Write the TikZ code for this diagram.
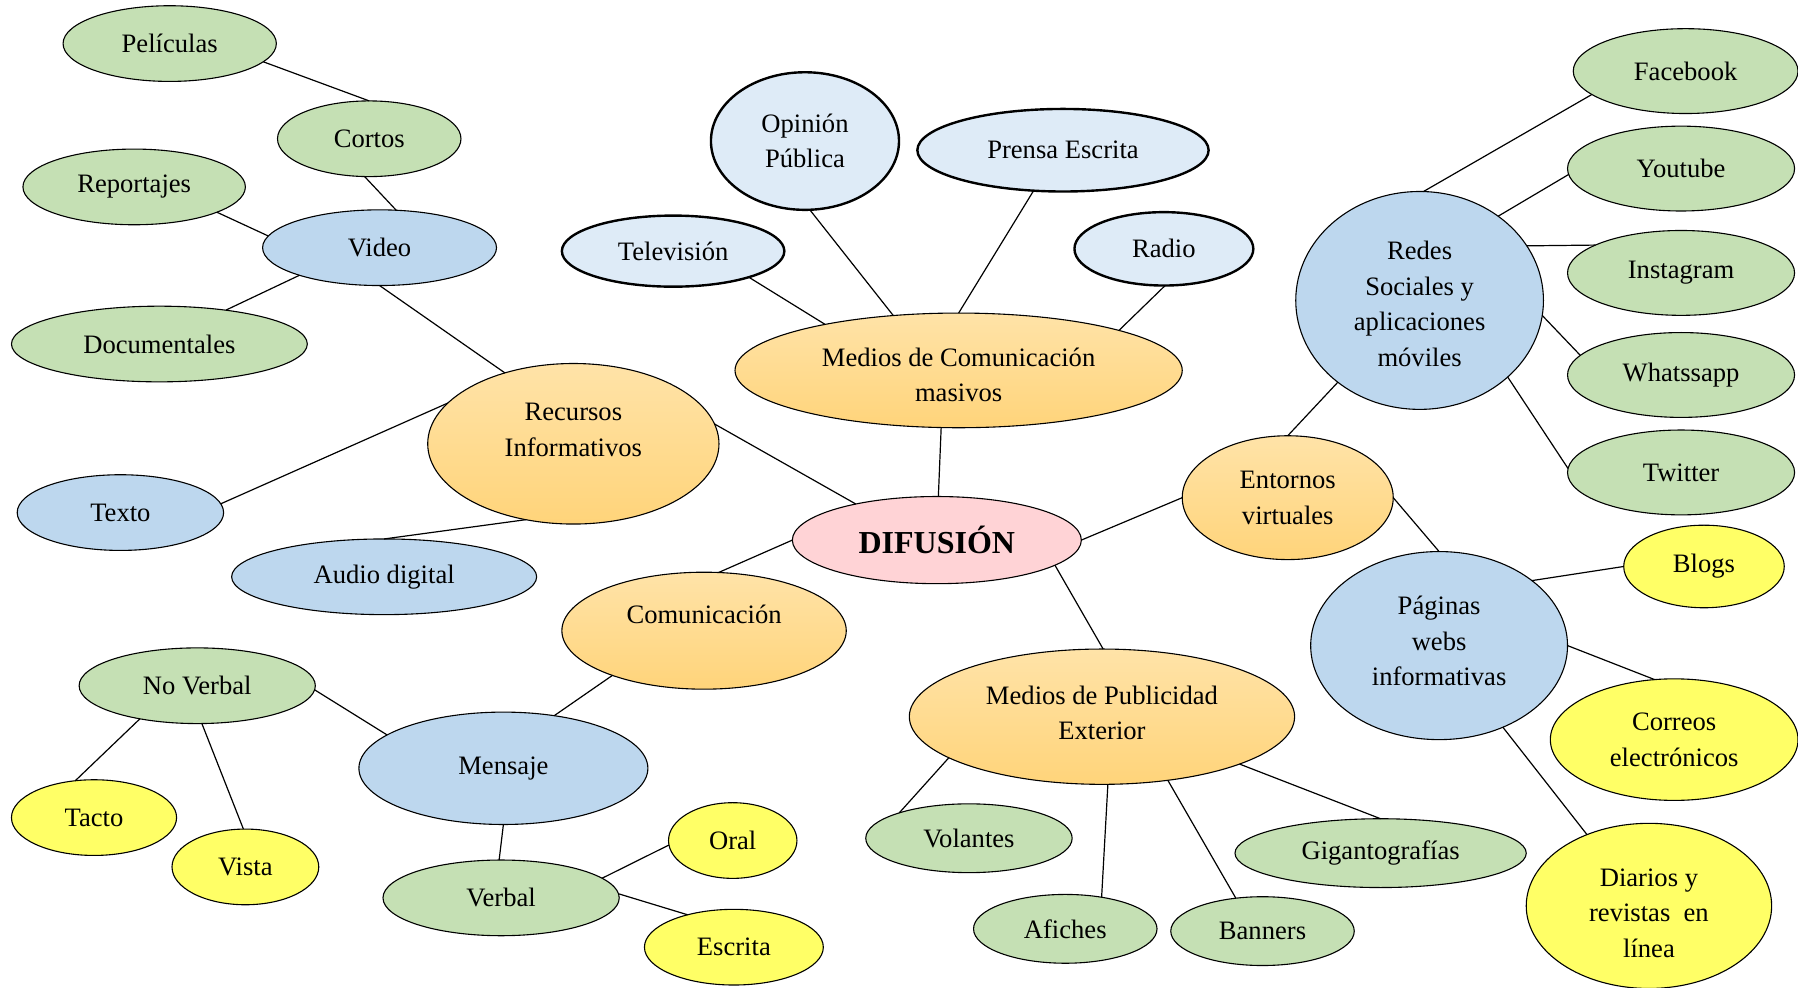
\documentclass[tikz,border=0pt]{standalone}
\usepackage{fontspec}
\setmainfont{Liberation Serif}
\usetikzlibrary{shapes.geometric}
\definecolor{cgreen}{HTML}{C5E0B4}
\definecolor{cblue}{HTML}{BDD7EE}
\definecolor{clblue}{HTML}{DEEBF7}
\definecolor{cyellow}{HTML}{FFFF66}
\definecolor{cpink}{HTML}{FFD3D6}
\definecolor{corTop}{HTML}{FFE3A8}
\definecolor{corBot}{HTML}{FFD47A}
\tikzset{
  ell/.style 2 args={ellipse, draw=black, line width=0.55pt, inner sep=0pt, outer sep=0pt,
    minimum width=#1*1.1468pt, minimum height=#2*1.1468pt, align=center,
    font=\fontsize{13.3}{17.8}\selectfont},
  green/.style={fill=cgreen},
  blue/.style={fill=cblue},
  lblue/.style={fill=clblue, line width=1.2pt},
  yel/.style={fill=cyellow},
  pink/.style={fill=cpink},
  orange/.style={top color=corTop, bottom color=corBot},
  conn/.style={draw=black, line width=0.6pt}
}
\begin{document}
\begin{tikzpicture}[x=0.5734pt, y=-0.5734pt]
\useasboundingbox (0,0) rectangle (1568,861);
\fill[white] (0,0) rectangle (1568,861);
% left cluster
\node[ell={93}{33}, green] (pel) at (148,38) {Películas};
\node[ell={80}{33}, green] (cor) at (322,121) {Cortos};
\node[ell={97}{33}, green] (rep) at (117,163) {Reportajes};
\node[ell={102}{33}, blue] (vid) at (331,216) {Video};
\node[ell={129}{33}, green] (doc) at (139,300) {Documentales};
\node[ell={127}{70}, orange] (rec) at (500,387) {Recursos\\Informativos\\[-3.8pt]};
\node[ell={90}{33}, blue] (tex) at (105,447) {Texto};
\node[ell={133}{33}, blue] (aud) at (335,503) {Audio digital};
% top cluster
\node[ell={97}{31}, lblue] (tel) at (587,219) {Televisión};
\node[ell={82}{60}, lblue] (opi) at (702,123) {Opinión\\Pública};
\node[ell={127}{36}, lblue] (pre) at (927,131) {Prensa Escrita};
\node[ell={78}{32}, lblue] (rad) at (1015,217) {Radio};
\node[ell={195}{50}, orange] (med) at (836,323) {\rule{0pt}{13.9pt}Medios de Comunicación\\masivos};
% center
\node[ell={126}{38}, pink, font=\fontsize{16}{20}\selectfont\bfseries] (dif) at (817,471) {DIFUSIÓN};
% bottom left
\node[ell={124}{51}, orange] (com) at (614,550) {Comunicación\\[-1.8pt]};
\node[ell={126}{49}, blue] (men) at (439,670) {Mensaje};
\node[ell={103}{33}, green] (nov) at (172,598) {No Verbal};
\node[ell={72}{33}, yel] (tac) at (82,713) {Tacto};
\node[ell={64}{33}, yel] (vis) at (214,756) {Vista};
\node[ell={103}{33}, green] (ver) at (437,783) {Verbal};
\node[ell={56}{33}, yel] (ora) at (639,733) {Oral};
\node[ell={78}{33}, yel] (esc) at (640,826) {Escrita};
% bottom middle
\node[ell={168}{59}, orange] (pub) at (961,625) {Medios de Publicidad\\Exterior\\[-13.8pt]};
\node[ell={90}{30}, green] (vol) at (845,731) {Volantes};
\node[ell={80}{30}, green] (afi) at (929,810) {Afiches};
\node[ell={80}{30}, green] (ban) at (1101,812) {Banners};
\node[ell={127}{30}, green] (gig) at (1204,744) {Gigantografías};
% right
\node[ell={92}{54}, orange] (ent) at (1123,434) {Entornos\\virtuales};
\node[ell={108}{95}, blue] (red) at (1238,262) {\rule{0pt}{12.5pt}Redes\\Sociales y\\aplicaciones\\móviles};
\node[ell={98}{37}, green] (fac) at (1470,62) {Facebook};
\node[ell={99}{37}, green] (you) at (1466,147) {Youtube};
\node[ell={99}{37}, green] (ins) at (1466,238) {Instagram};
\node[ell={99}{37}, green] (wha) at (1466,327) {Whatssapp};
\node[ell={99}{37}, green] (twi) at (1466,412) {Twitter};
\node[ell={112}{82}, blue] (pag) at (1255,563) {Páginas\\webs\\informativas\\[-13.2pt]};
\node[ell={70}{36}, yel] (blo) at (1486,494) {Blogs};
\node[ell={108}{53}, yel] (cre) at (1460,645) {Correos\\electrónicos};
\node[ell={107}{72}, yel] (dia) at (1438,790) {\rule{0pt}{16.2pt}Diarios y\\revistas\ \ en\\línea};
% connectors
\draw[conn] (pel.-11.7) -- (cor.90);
\draw[conn] (cor.-97) -- (vid.66.4);
\draw[conn] (rep.-17.5) -- (vid.174.9);
\draw[conn] (doc.27.3) -- (vid.199);
\draw[conn] (vid.-90) -- (rec.134.5);
\draw[conn] (tex.5.8) -- (rec.162.8);
\draw[conn] (aud.90) -- (rec.-122.9);
\draw[conn] (rec.8.3) -- (dif.156);
\draw[conn] (tel.-19.4) -- (med.161.3);
\draw[conn] (opi.-86) -- (med.140.4);
\draw[conn] (pre.-126.9) -- (med.90);
\draw[conn] (rad.-88) -- (med.14.1);
\draw[conn] (med.-107.4) -- (dif.88.4);
\draw[conn] (dif.180) -- (com.76.5);
\draw[conn] (com.-154.5) -- (men.46.3);
\draw[conn] (men.164.4) -- (nov.-2.8);
\draw[conn] (nov.-150.5) -- (tac.117.3);
\draw[conn] (nov.-83.5) -- (vis.93.4);
\draw[conn] (men.-90) -- (ver.93.5);
\draw[conn] (ver.11.4) -- (ora.184);
\draw[conn] (ver.2.8) -- (esc.145);
\draw[conn] (dif.-12.7) -- (pub.89);
\draw[conn] (pub.-165.4) -- (vol.160.2);
\draw[conn] (pub.-85.2) -- (afi.41.3);
\draw[conn] (pub.-44) -- (ban.129.8);
\draw[conn] (pub.-19.4) -- (gig.90);
\draw[conn] (dif.0) -- (ent.180);
\draw[conn] (ent.90) -- (red.-135.4);
\draw[conn] (ent.0) -- (pag.90);
\draw[conn] (red.88) -- (fac.-166.6);
\draw[conn] (red.47.8) -- (you.183.5);
\draw[conn] (red.27.8) -- (ins.162);
\draw[conn] (red.-7.6) -- (wha.169.6);
\draw[conn] (red.-41.9) -- (twi.178.8);
\draw[conn] (pag.35.9) -- (blo.180);
\draw[conn] (pag.0) -- (cre.108.8);
\draw[conn] (pag.-52.3) -- (dia.131.5);
\end{tikzpicture}
\end{document}
